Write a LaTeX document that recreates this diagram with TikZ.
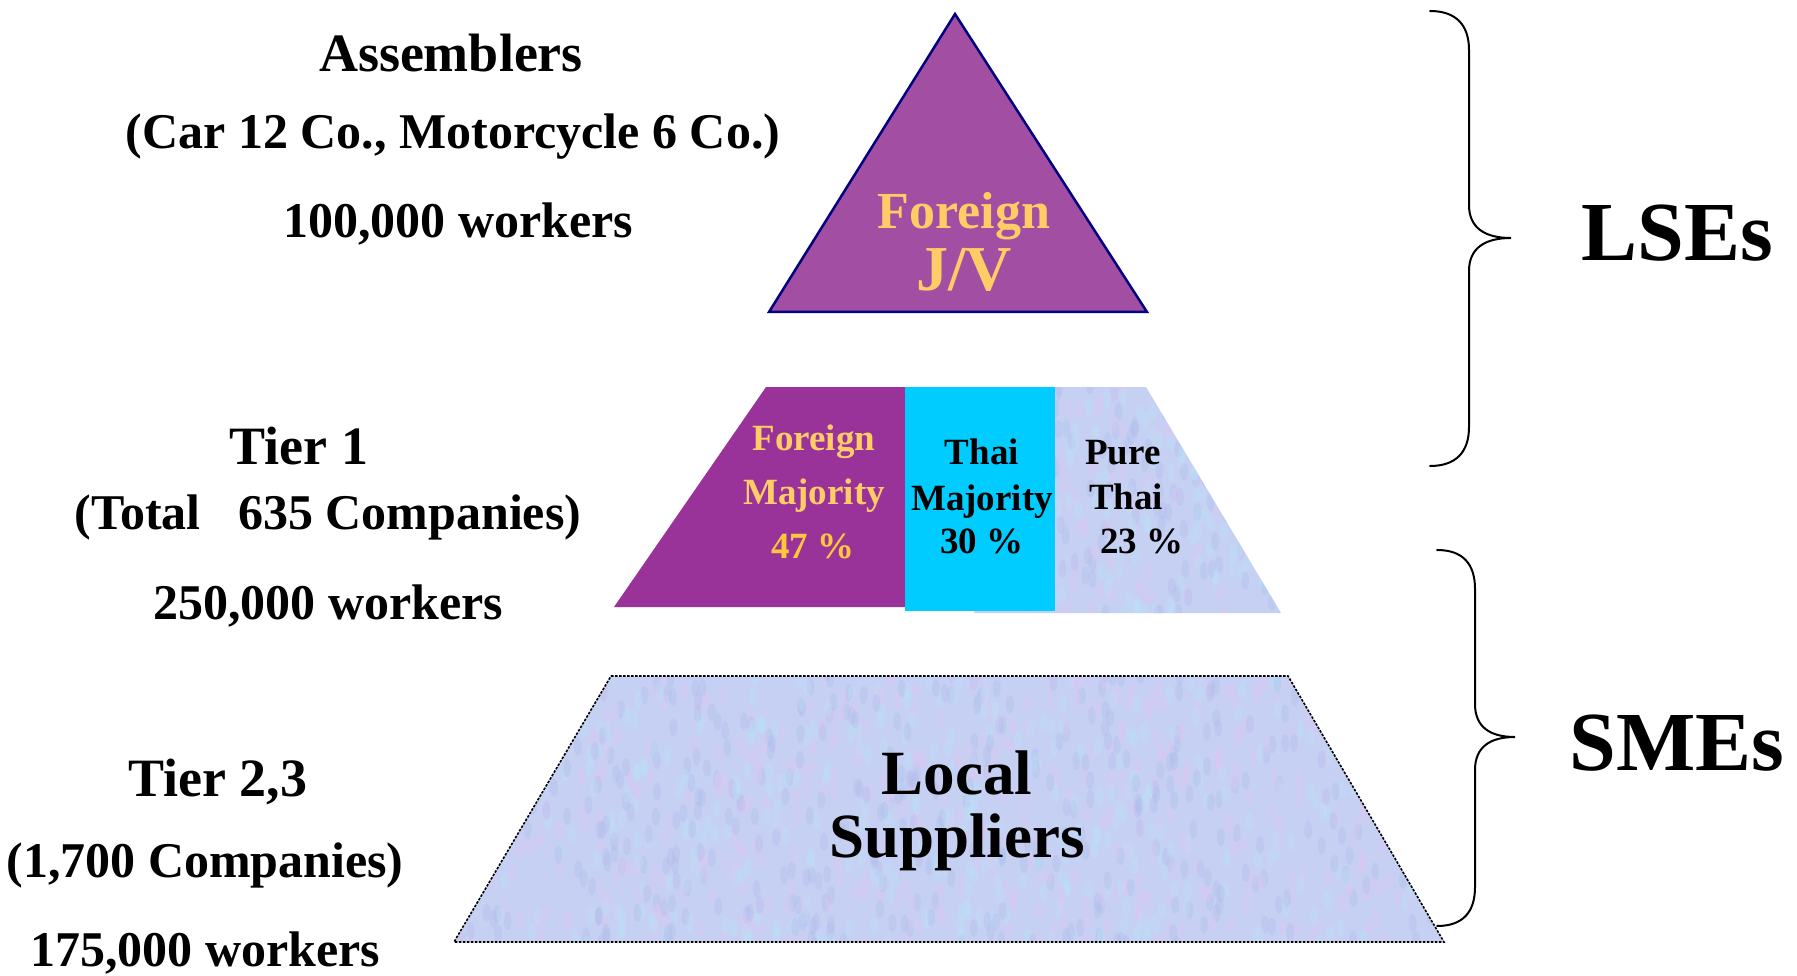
\documentclass[tikz,border=0pt]{standalone}
\usepackage{fontspec}
\setmainfont{Liberation Serif}
\definecolor{jvpurple}{HTML}{A24EA2}
\definecolor{navyline}{HTML}{000080}
\definecolor{tpurple}{HTML}{993399}
\definecolor{goldtext}{HTML}{FFCC66}
\definecolor{goldpct}{HTML}{FFC83C}
\definecolor{cyanbox}{HTML}{00CCFF}
\definecolor{texbase}{HTML}{C6D0F3}
\definecolor{texpink}{HTML}{E2C6F0}
\definecolor{texcyan}{HTML}{B8E4F8}
\definecolor{texblue}{HTML}{ADB9EC}
\newcommand{\fsz}[1]{\fontsize{#1}{#1}\selectfont\bfseries}
\newcommand{\mytexture}[5]{%
  \fill[texbase] (#1,#2) rectangle ++(#3,#4);
  \foreach \k in {1,...,#5}{%
    \pgfmathsetmacro{\rx}{#1+rnd*#3}%
    \pgfmathsetmacro{\ry}{#2+rnd*#4}%
    \pgfmathsetmacro{\rc}{rnd}%
    \ifdim\rc pt<0.33pt \def\cc{texpink}\else\ifdim\rc pt<0.66pt \def\cc{texcyan}\else\def\cc{texblue}\fi\fi
    \fill[\cc, opacity=0.3] (\rx,\ry) ellipse (4 and 9);
  }}
\begin{document}
\begin{tikzpicture}[x=1pt,y=-1pt,
  lbl/.style={anchor=base, inner sep=0pt, font={\fsz{50}}},
  title/.style={lbl, font={\fsz{54}}},
  inner/.style={anchor=base, inner sep=0pt, font={\fsz{37}}},
  brace/.style={draw=black, line width=2pt, line cap=round},
  side/.style={anchor=base, inner sep=0pt, font={\fsz{84}}}
]
\useasboundingbox (0,0) rectangle (1797,976);
\fill[white] (0,0) rectangle (1797,976);
\pgfmathsetseed{7}

% ---- top triangle
\filldraw[fill=jvpurple, draw=navyline, line width=2.5pt, line join=miter]
  (955,14) -- (1147,312) -- (769,312) -- cycle;
\node[anchor=base, inner sep=0pt, text=goldtext, font={\fsz{52}}] (jv1) at (964,229) {Foreign};
\node[anchor=base, inner sep=0pt, text=goldtext, font={\fsz{64}}] (jv2) at (964,291) {J/V};

% ---- tier 1 band
\begin{scope}
  \clip (1040,387) -- (1146,387) -- (1281,613) -- (974,613) -- cycle;
  \mytexture{970}{385}{315}{230}{380}
\end{scope}
\fill[tpurple] (766,387) -- (905,387) -- (905,607) -- (614,607) -- cycle;
\fill[cyanbox] (905,387) rectangle (1055,611);

\node[inner, text=goldtext] (fm1) at (814,450) {Foreign};
\node[inner, text=goldtext] (fm2) at (814,504) {Majority};
\node[inner, text=goldpct] (fm3) at (813,558) {47 \%};
\node[inner] (tm1) at (982,464) {Thai};
\node[inner] (tm2) at (982,510) {Majority};
\node[inner] (tm3) at (982,553) {30 \%};
\node[inner, anchor=base west] (pt1) at (1085,464) {Pure};
\node[inner, anchor=base west] (pt2) at (1089,509) {Thai};
\node[inner, anchor=base west] (pt3) at (1100,553) {23 \%};

% ---- local suppliers
\begin{scope}
  \clip (611,676) -- (1288,676) -- (1444,942) -- (454,942) -- cycle;
  \mytexture{450}{672}{1000}{274}{1300}
\end{scope}
\draw[black, line width=1.6pt, dash pattern=on 2.5pt off 1.5pt]
  (611,676) -- (1288,676) -- (1444,942) -- (454,942) -- cycle;
\node[anchor=base, inner sep=0pt, font={\fsz{63}}] (ls1) at (957,794) {Local};
\node[anchor=base, inner sep=0pt, font={\fsz{63}}] (ls2) at (957,857) {Suppliers};

% ---- left labels
\node[title] (a1) at (451,72) {Assemblers};
\node[lbl] (a2) at (453,149) {(Car 12 Co., Motorcycle 6 Co.)};
\node[lbl] (a3) at (458,238) {100,000 workers};
\node[title] (b1) at (299,464) {Tier 1};
\node[lbl] (b2) at (328,529) {(Total\ \ \ 635 Companies)};
\node[lbl] (b3) at (328,619) {250,000 workers};
\node[title] (c1) at (218,796) {Tier 2,3};
\node[lbl] (c2) at (205,877) {(1,700 Companies)};
\node[lbl] (c3) at (205,966) {175,000 workers};

% ---- braces
\draw[brace] (1430,11) .. controls (1456,11) and (1469,25) .. (1469,50)
  -- (1469,205) .. controls (1469,228) and (1485,238) .. (1511,238)
  .. controls (1485,238) and (1469,248) .. (1469,271)
  -- (1469,427) .. controls (1469,452) and (1456,466) .. (1430,466);
\draw[brace] (1437,550) .. controls (1463,550) and (1475,564) .. (1475,589)
  -- (1475,704) .. controls (1475,727) and (1490,737) .. (1515,737)
  .. controls (1490,737) and (1475,747) .. (1475,770)
  -- (1475,887) .. controls (1475,912) and (1463,926) .. (1437,926);
\node[side] (lse) at (1677,261) {LSEs};
\node[side] (sme) at (1677,770) {SMEs};
\end{tikzpicture}
\end{document}
